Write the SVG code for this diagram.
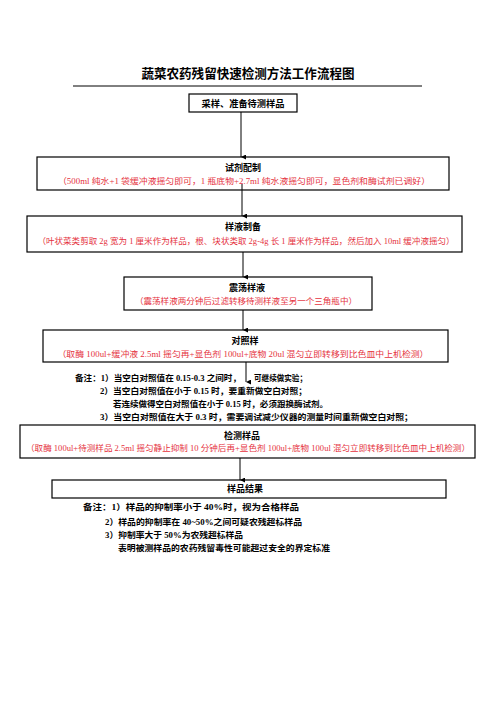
<svg xmlns="http://www.w3.org/2000/svg" width="496" height="702" viewBox="0 0 496 702">
<defs>
<marker id="ah" markerWidth="6" markerHeight="6" refX="2.5" refY="5" orient="auto" markerUnits="userSpaceOnUse">
<path d="M0,0 L5,0 L2.5,5 Z" fill="#000"/>
</marker>
<style>
.box{fill:#fff;stroke:#000;stroke-width:1.2}
.t{font-family:"Liberation Serif","Noto Sans CJK SC",serif;font-weight:bold;font-size:9px;fill:#000;text-anchor:middle}
.r{font-family:"Liberation Serif","Noto Sans CJK SC",serif;font-size:8.5px;fill:#e5323e;text-anchor:middle}
.n{font-family:"Liberation Serif","Noto Sans CJK SC",serif;font-weight:bold;font-size:8.5px;fill:#000}
.c{stroke:#000;stroke-width:1;fill:none}
</style>
</defs>
<rect width="496" height="702" fill="#fff"/>
<text x="248" y="78" font-family="Liberation Serif, Noto Sans CJK SC, serif" font-weight="bold" font-size="13" text-anchor="middle" textLength="213" lengthAdjust="spacingAndGlyphs">蔬菜农药残留快速检测方法工作流程图</text>
<line x1="73" y1="86" x2="422" y2="86" stroke="#000" stroke-width="1"/>
<g id="n1"><rect class="box" x="189" y="94" width="108" height="18"/><text class="t" x="243" y="106.5" textLength="83" lengthAdjust="spacingAndGlyphs">采样、准备待测样品</text></g>
<g id="n2"><rect class="box" x="37" y="157" width="412" height="33"/><text class="t" x="243" y="170.5">试剂配制</text><text class="r" x="244" y="184" textLength="372" lengthAdjust="spacingAndGlyphs">（500ml 纯水+1 袋缓冲液摇匀即可，1 瓶底物+2.7ml 纯水液摇匀即可，显色剂和酶试剂已调好）</text></g>
<g id="n3"><rect class="box" x="27" y="216" width="435" height="36"/><text class="t" x="243" y="229.5">样液制备</text><text class="r" x="246" y="244" textLength="417" lengthAdjust="spacingAndGlyphs">（叶状菜类剪取 2g 宽为 1 厘米作为样品，根、块状类取 2g-4g 长 1 厘米作为样品，然后加入 10ml 缓冲液摇匀）</text></g>
<g id="n4"><rect class="box" x="124" y="277" width="248" height="33"/><text class="t" x="247" y="290.5">震荡样液</text><text class="r" x="246" y="304" textLength="222" lengthAdjust="spacingAndGlyphs">（震荡样液两分钟后过滤转移待测样液至另一个三角瓶中）</text></g>
<g id="n5"><rect class="box" x="43" y="330" width="405" height="32"/><text class="t" x="245" y="343.5">对照样</text><text class="r" x="243" y="356.5" textLength="371" lengthAdjust="spacingAndGlyphs">（取酶 100ul+缓冲液 2.5ml 摇匀再+显色剂 100ul+底物 20ul 混匀立即转移到比色皿中上机检测）</text></g>
<g id="note1">
<text class="n" x="75" y="381" textLength="166" lengthAdjust="spacingAndGlyphs">备注：1）当空白对照值在 0.15-0.3 之间时，</text>
<text class="n" x="254" y="381" textLength="53" lengthAdjust="spacingAndGlyphs">可继续做实验；</text>
<text class="n" x="100" y="394" textLength="207" lengthAdjust="spacingAndGlyphs">2）当空白对照值在小于 0.15 时，要重新做空白对照；</text>
<text class="n" x="113" y="407" textLength="215" lengthAdjust="spacingAndGlyphs">若连续做得空白对照值在小于 0.15 时，必须跟换酶试剂。</text>
<text class="n" x="100" y="420" textLength="313" lengthAdjust="spacingAndGlyphs">3）当空白对照值在大于 0.3 时，需要调试减少仪器的测量时间重新做空白对照；</text>
</g>
<g id="n6"><rect class="box" x="20" y="425" width="455" height="33"/><text class="t" x="242" y="438.5">检测样品</text><text class="r" x="248" y="451" textLength="444" lengthAdjust="spacingAndGlyphs">（取酶 100ul+待测样品 2.5ml 摇匀静止抑制 10 分钟后再+显色剂 100ul+底物 100ul 混匀立即转移到比色皿中上机检测）</text></g>
<g id="n7"><rect class="box" x="52" y="480" width="394" height="18"/><text class="t" x="245" y="492">样品结果</text></g>
<g id="note2">
<text class="n" x="83" y="510" textLength="216" lengthAdjust="spacingAndGlyphs">备注：1）样品的抑制率小于 40%时，视为合格样品</text>
<text class="n" x="105" y="525" textLength="197" lengthAdjust="spacingAndGlyphs">2）样品的抑制率在 40~50%之间可疑农残超标样品</text>
<text class="n" x="105" y="538" textLength="138" lengthAdjust="spacingAndGlyphs">3）抑制率大于 50%为农残超标样品</text>
<text class="n" x="118" y="551" textLength="212" lengthAdjust="spacingAndGlyphs">表明被测样品的农药残留毒性可能超过安全的界定标准</text>
</g>
<g id="connectors">
<line class="c" x1="241" y1="112" x2="241" y2="157" marker-end="url(#ah)"/>
<line class="c" x1="242" y1="184" x2="242" y2="216" marker-end="url(#ah)"/>
<line class="c" x1="243" y1="252" x2="243" y2="277" marker-end="url(#ah)"/>
<line class="c" x1="243" y1="310" x2="243" y2="330" marker-end="url(#ah)"/>
<line class="c" x1="246" y1="362" x2="246" y2="382" marker-end="url(#ah)"/>
<line class="c" x1="240" y1="458" x2="240" y2="480" marker-end="url(#ah)"/>
</g>
</svg>
